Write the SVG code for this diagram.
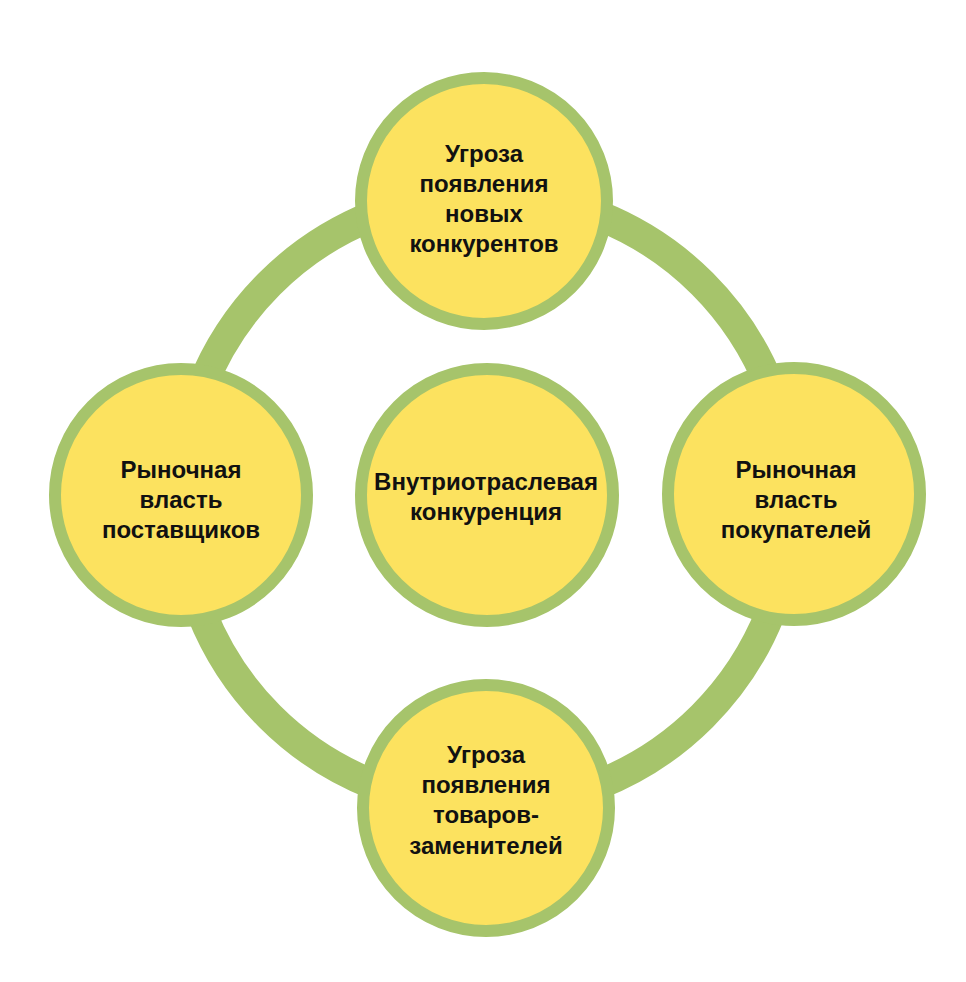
<svg xmlns="http://www.w3.org/2000/svg" width="966" height="982" viewBox="0 0 966 982">
<style>
.node{fill:#fce25f;stroke:#a6c46b;stroke-width:12}
.lbl{font-family:"Liberation Sans",Arial,sans-serif;font-weight:bold;font-size:24px;fill:#111;text-anchor:middle}
</style>
<rect width="966" height="982" fill="#ffffff"/>
<g id="connectors">
<circle cx="486" cy="500" r="306" fill="none" stroke="#a6c46b" stroke-width="30"/>
</g>
<g id="top">
<circle class="node" cx="484" cy="201" r="123"/>
<text class="lbl"><tspan x="484" y="162">Угроза</tspan><tspan x="484" y="192">появления</tspan><tspan x="484" y="222">новых</tspan><tspan x="484" y="252">конкурентов</tspan></text>
</g>
<g id="left">
<circle class="node" cx="181" cy="495" r="126"/>
<text class="lbl"><tspan x="181" y="478">Рыночная</tspan><tspan x="181" y="508">власть</tspan><tspan x="181" y="538">поставщиков</tspan></text>
</g>
<g id="center">
<circle class="node" cx="487" cy="495" r="126"/>
<text class="lbl"><tspan x="486" y="490">Внутриотраслевая</tspan><tspan x="486" y="520">конкуренция</tspan></text>
</g>
<g id="right">
<circle class="node" cx="794" cy="494" r="126"/>
<text class="lbl"><tspan x="796" y="478">Рыночная</tspan><tspan x="796" y="508">власть</tspan><tspan x="796" y="538">покупателей</tspan></text>
</g>
<g id="bottom">
<circle class="node" cx="486" cy="808" r="123"/>
<text class="lbl"><tspan x="486" y="763">Угроза</tspan><tspan x="486" y="793">появления</tspan><tspan x="486" y="823">товаров-</tspan><tspan x="486" y="854">заменителей</tspan></text>
</g>
</svg>
